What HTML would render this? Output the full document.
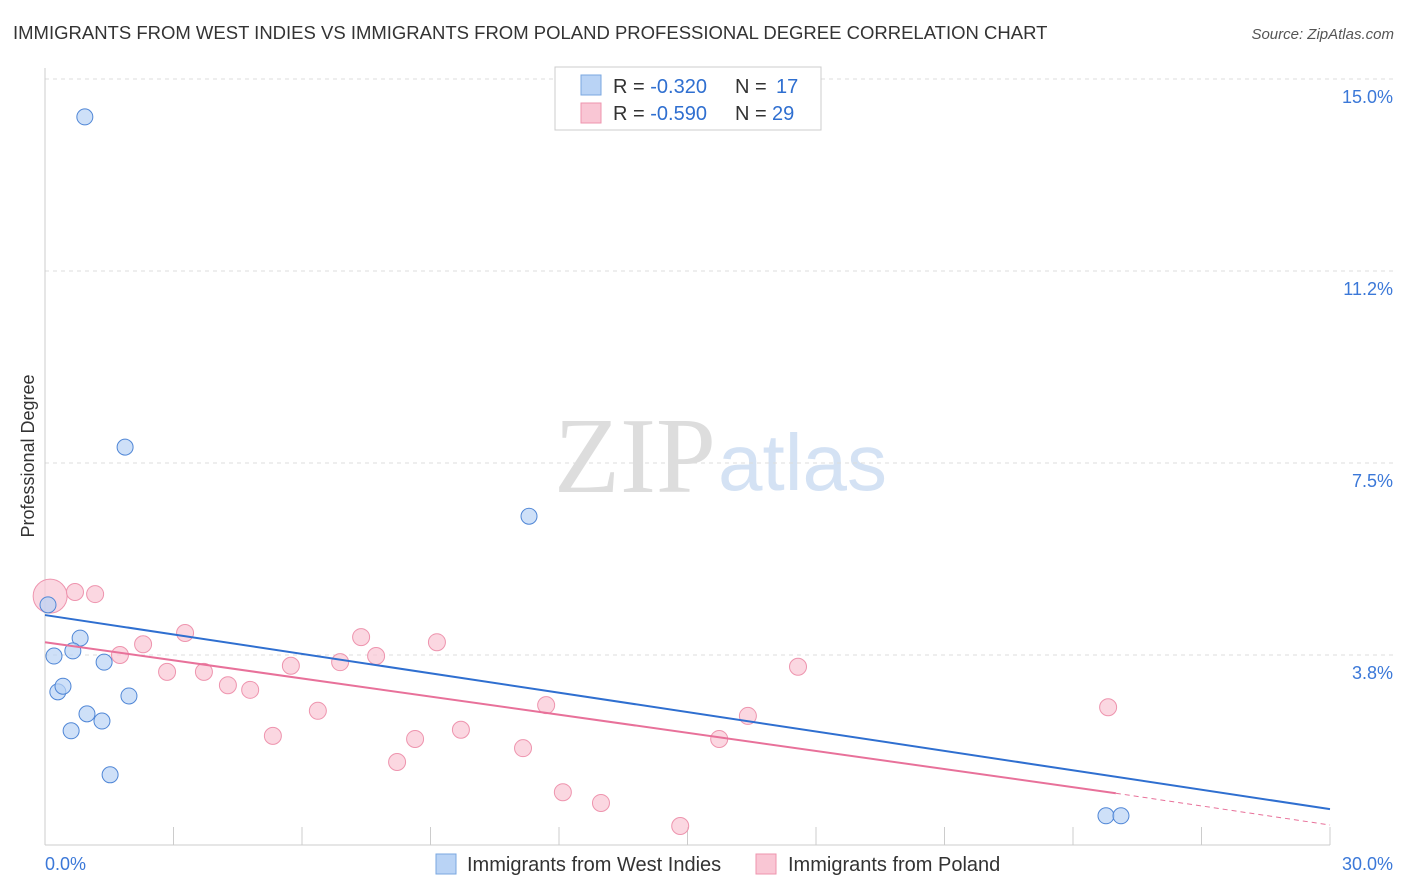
<!DOCTYPE html>
<html><head><meta charset="utf-8"><style>
body{margin:0;background:#fff;font-family:"Liberation Sans",sans-serif;}
</style></head><body>
<svg id="c" width="1406" height="892" style="display:block">
<text x="13" y="39" font-size="18.5" fill="#333">IMMIGRANTS FROM WEST INDIES VS IMMIGRANTS FROM POLAND PROFESSIONAL DEGREE CORRELATION CHART</text>
<text x="1394" y="39" font-size="15" fill="#555" font-style="italic" text-anchor="end">Source: ZipAtlas.com</text>
<text x="34" y="456" font-size="18" fill="#333" text-anchor="middle" transform="rotate(-90 34 456)">Professional Degree</text>
<text x="716" y="492" font-size="108" fill="#ddd" text-anchor="end" font-family="Liberation Serif,serif">ZIP</text>
<text x="718" y="490" font-size="80" fill="#d4e2f4">atlas</text>
<g id="grid"></g><g id="marks"></g>
<g>
<rect x="555" y="67" width="266" height="63" fill="#fff" stroke="#ccc"/>
<rect x="581" y="75" width="20" height="20" fill="#b9d3f5" stroke="#7aa7e0"/>
<rect x="581" y="103" width="20" height="20" fill="#f9c6d4" stroke="#ee94ae"/>
<text x="613" y="93" font-size="20" fill="#333">R = <tspan fill="#2f6fd0">-0.320</tspan></text>
<text x="735" y="93" font-size="20" fill="#333">N = <tspan fill="#2f6fd0" x="776">17</tspan></text>
<text x="613" y="120" font-size="20" fill="#333">R = <tspan fill="#2f6fd0">-0.590</tspan></text>
<text x="735" y="120" font-size="20" fill="#333">N = <tspan fill="#2f6fd0" x="772">29</tspan></text>
</g>
<g>
<rect x="436" y="854" width="20" height="20" fill="#b9d3f5" stroke="#7aa7e0"/>
<text x="467" y="871" font-size="20" fill="#333">Immigrants from West Indies</text>
<rect x="756" y="854" width="20" height="20" fill="#f9c6d4" stroke="#ee94ae"/>
<text x="788" y="871" font-size="20" fill="#333">Immigrants from Poland</text>
</g>
</svg>
<script>
const yTicks=[15.0,11.25,7.5,3.75];
const yTickLabels=["15.0%","11.2%","7.5%","3.8%"];
const xTickLabels=["0.0%","30.0%"];
const wiX=[0.93,1.87,11.3,0.07,0.21,0.82,0.65,1.38,0.30,0.42,1.96,0.98,1.33,0.61,1.52,24.77,25.12];
const wiY=[14.26,7.81,6.46,4.73,3.73,4.08,3.83,3.61,3.03,3.14,2.95,2.60,2.46,2.27,1.41,0.61,0.61];
const plX=[0.12,0.70,1.17,3.27,2.29,1.75,2.85,3.71,4.27,4.79,5.74,6.89,7.73,7.38,9.15,6.37,5.32,8.64,8.22,9.71,11.16,11.70,12.09,12.98,14.83,15.74,16.41,17.58,24.82];
const plY=[4.90,4.98,4.94,4.18,3.96,3.75,3.42,3.42,3.16,3.07,3.54,3.61,3.73,4.10,4.00,2.66,2.17,2.11,1.66,2.29,1.93,2.77,1.07,0.86,0.41,2.11,2.56,3.52,2.73];
const wiLine=[4.53,0.74];
const plLine=[4.00,1.05,0.43];
const X=v=>45+v*1285/30, Y=v=>79+(15-v)*51.2;
const ns="http://www.w3.org/2000/svg";
function mk(t,a,p){const e=document.createElementNS(ns,t);for(const k in a)e.setAttribute(k,a[k]);p.appendChild(e);return e;}
const g=document.getElementById('grid'),m=document.getElementById('marks');
yTicks.forEach((v,i)=>{
 const l=mk('line',{x1:45,x2:1394,y1:Y(v),y2:Y(v),stroke:'#ddd','stroke-dasharray':'4,4'},g);
 
 
 const t=mk('text',{x:1393,y:Y(v)+24,'font-size':18,fill:'#3b78d8','text-anchor':'end'},g);t.textContent=yTickLabels[i];
 
 
});
mk('line',{x1:45,x2:45,y1:68,y2:845,stroke:'#ccc'},g);
mk('line',{x1:45,x2:1330,y1:845,y2:845,stroke:'#ccc'},g);
for(let i=1;i<=10;i++){mk('line',{x1:45+i*128.5,x2:45+i*128.5,y1:827,y2:845,stroke:'#ccc'},g);}
[[0,45,'start'],[30,1393,'end']].forEach((d,i)=>{const t=mk('text',{x:d[1],y:870,'font-size':18,fill:'#3b78d8','text-anchor':d[2]},g);t.textContent=xTickLabels[i];
 
 });
plX.forEach((x,i)=>{const c=mk('circle',{cx:X(x),cy:Y(plY[i]),r:i==0?17:8.5,fill:'#f9c6d4','fill-opacity':0.7,stroke:'#ee94ae','stroke-width':1},m);
 
 });
wiX.forEach((x,i)=>{const c=mk('circle',{cx:X(x),cy:Y(wiY[i]),r:8,fill:'#b9d3f5','fill-opacity':0.7,stroke:'#4f86d6','stroke-width':1},m);
 
 });
let l=mk('line',{x1:X(0),y1:Y(wiLine[0]),x2:X(30),y2:Y(wiLine[1]),stroke:'#2f6fd0','stroke-width':2},m);


l=mk('line',{x1:X(0),y1:Y(plLine[0]),x2:X(25),y2:Y(plLine[1]),stroke:'#e8719a','stroke-width':2},m);


l=mk('line',{x1:X(25),y1:Y(plLine[1]),x2:X(30),y2:Y(plLine[2]),stroke:'#e8719a','stroke-width':1,'stroke-dasharray':'5,4'},m);


</script>
</body></html>
